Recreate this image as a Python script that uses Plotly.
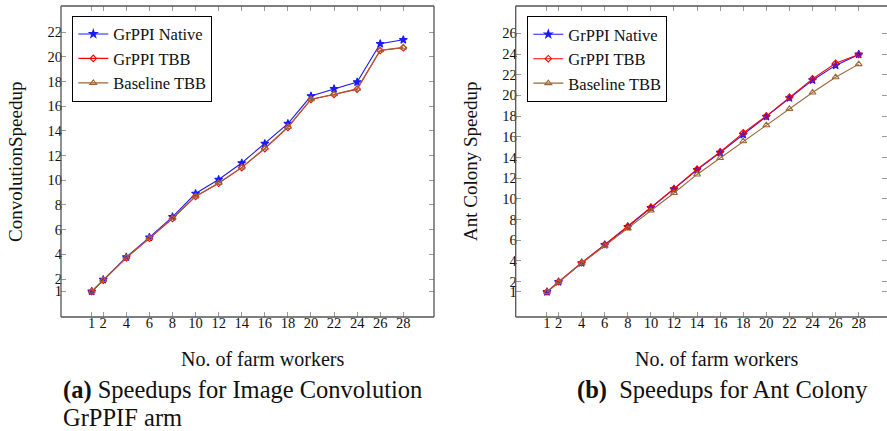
import plotly.graph_objects as go

workers = [1, 2, 4, 6, 8, 10, 12, 14, 16, 18, 20, 22, 24, 26, 28]

conv_native = [1.0, 1.95, 3.78, 5.38, 7.04, 8.93, 10.06, 11.40, 12.97, 14.59, 16.83, 17.42, 17.96, 21.07, 21.39]
conv_grppi_tbb = [0.98, 1.90, 3.72, 5.30, 6.90, 8.69, 9.76, 11.03, 12.57, 14.29, 16.56, 16.96, 17.39, 20.52, 20.74]
conv_baseline_tbb = [0.99, 1.92, 3.74, 5.32, 6.92, 8.70, 9.78, 11.05, 12.60, 14.32, 16.58, 16.98, 17.42, 20.55, 20.78]

ant_native = [1.0, 1.97, 3.80, 5.55, 7.30, 9.14, 10.94, 12.80, 14.47, 16.20, 17.95, 19.75, 21.47, 22.90, 23.96]
ant_grppi_tbb = [1.02, 1.98, 3.82, 5.58, 7.34, 9.18, 10.98, 12.86, 14.54, 16.38, 18.00, 19.82, 21.60, 23.10, 23.96]
ant_baseline_tbb = [1.0, 1.95, 3.78, 5.45, 7.14, 8.87, 10.57, 12.36, 13.95, 15.57, 17.12, 18.70, 20.28, 21.76, 23.02]

x_ticks = [1, 2, 4, 6, 8, 10, 12, 14, 16, 18, 20, 22, 24, 26, 28]
conv_y_ticks = [1, 2, 4, 6, 8, 10, 12, 14, 16, 18, 20, 22]
ant_y_ticks = [1, 2, 4, 6, 8, 10, 12, 14, 16, 18, 20, 22, 24, 26]

series_names = ["GrPPI Native", "GrPPI TBB", "Baseline TBB"]

W, H = 887, 431
FONT = "Liberation Serif"
BLUE = "#1a1aff"
RED = "#ff0000"
BROWN = "#9c6638"
TICKC = "#9a9a9a"
FRAMEC = "#555555"
TXT = "#111111"


def px_x(p):
    return p / W


def px_y(p):
    return 1 - p / H


fig = go.Figure()

styles = [
    dict(color=BLUE, symbol="star", size=6, mfill=BLUE),
    dict(color=RED, symbol="diamond-open", size=5, mfill=RED),
    dict(color=BROWN, symbol="triangle-up-open", size=6, mfill=BROWN),
]

for xa, ya, leg, data in [
    ("x", "y", "legend", [conv_native, conv_grppi_tbb, conv_baseline_tbb]),
    ("x2", "y2", "legend2", [ant_native, ant_grppi_tbb, ant_baseline_tbb]),
]:
    for name, vals, st in zip(series_names, data, styles):
        fig.add_trace(go.Scatter(
            x=workers, y=vals, name=name, mode="lines+markers",
            xaxis=xa, yaxis=ya, legend=leg,
            line=dict(color=st["color"], width=1.1),
            marker=dict(symbol=st["symbol"], size=st["size"], color=st["mfill"],
                        line=dict(color=st["color"], width=1.1)),
        ))

axis_common = dict(
    showgrid=False, zeroline=False, showline=False,
    ticks="inside", ticklen=5, tickcolor=TICKC, tickwidth=1,
    mirror="ticks",
    tickfont=dict(family=FONT, size=14.5, color=TXT),
)
xaxis_extra = dict(ticklabelstandoff=-5)
yaxis_extra = dict(ticklabelstandoff=-2)

L_x0, L_x1 = 61, 434
R_x0, R_x1 = 515.7, 887
Y_top, Y_bot = 6, 317

legend_common = dict(xanchor="left", yanchor="top",
                     bgcolor="white", bordercolor="black", borderwidth=1,
                     font=dict(family=FONT, size=16.5, color=TXT),
                     tracegroupgap=0, itemwidth=30)

fig.update_layout(
    width=W, height=H,
    margin=dict(l=0, r=0, t=0, b=0),
    paper_bgcolor="white", plot_bgcolor="white",
    xaxis=dict(domain=[px_x(L_x0), px_x(L_x1)], range=[-1.66, 30.66],
               tickvals=x_ticks, anchor="y", **axis_common, **xaxis_extra),
    yaxis=dict(domain=[px_y(Y_bot), px_y(Y_top)], range=[-1.08, 24.13],
               tickvals=conv_y_ticks, anchor="x", **axis_common, **yaxis_extra),
    xaxis2=dict(domain=[px_x(R_x0), 1.0], range=[-1.71, 30.45],
                tickvals=x_ticks, anchor="y2", **axis_common, **xaxis_extra),
    yaxis2=dict(domain=[px_y(Y_bot), px_y(Y_top)], range=[-1.42, 28.64],
                tickvals=ant_y_ticks, anchor="x2", **axis_common, **yaxis_extra),
    legend=dict(x=px_x(72.3), y=px_y(15.7), **legend_common),
    legend2=dict(x=px_x(527.3), y=px_y(16), **legend_common),
    showlegend=True,
)

# frames (left plot: full box, right plot: right edge is cut off)
for x0, x1, right in [(L_x0, L_x1, True), (R_x0, R_x1 + 5, False)]:
    lines = [
        (x0, Y_top, x1, Y_top),
        (x0, Y_bot, x1, Y_bot),
        (x0, Y_top, x0, Y_bot),
    ]
    if right:
        lines.append((x1, Y_top, x1, Y_bot))
    for a, b, c, d in lines:
        fig.add_shape(type="line", xref="paper", yref="paper",
                      x0=px_x(a), y0=px_y(b), x1=px_x(c), y1=px_y(d),
                      line=dict(color=FRAMEC, width=1.3))

ann = []
ann.append(dict(text="No. of farm workers", x=px_x(262), y=px_y(359), size=20))
ann.append(dict(text="No. of farm workers", x=px_x(716), y=px_y(359), size=20))
ann.append(dict(text="ConvolutionSpeedup", x=px_x(15), y=px_y(162), textangle=-90, size=19))
ann.append(dict(text="Ant Colony Speedup", x=px_x(470), y=px_y(162), textangle=-90, size=19))
for a in ann:
    size = a.pop("size")
    fig.add_annotation(xref="paper", yref="paper", showarrow=False,
                       font=dict(family=FONT, size=size, color=TXT),
                       xanchor="center", yanchor="middle", **a)

captions = [
    dict(text="<b>(a)</b> Speedups for Image Convolution", x=px_x(61), y=px_y(389.5), xanchor="left"),
    dict(text="GrPPIF arm", x=px_x(61), y=px_y(417.5), xanchor="left"),
    dict(text="<b>(b)</b>  Speedups for Ant Colony", x=px_x(870), y=px_y(389.5), xanchor="right"),
]
for c in captions:
    fig.add_annotation(xref="paper", yref="paper", showarrow=False,
                       font=dict(family=FONT, size=24.5, color=TXT),
                       yanchor="middle", **c)

fig.write_html("out.html",
               config={"displayModeBar": False},
               post_script="document.body.style.margin='0px';document.body.style.overflow='hidden';")
